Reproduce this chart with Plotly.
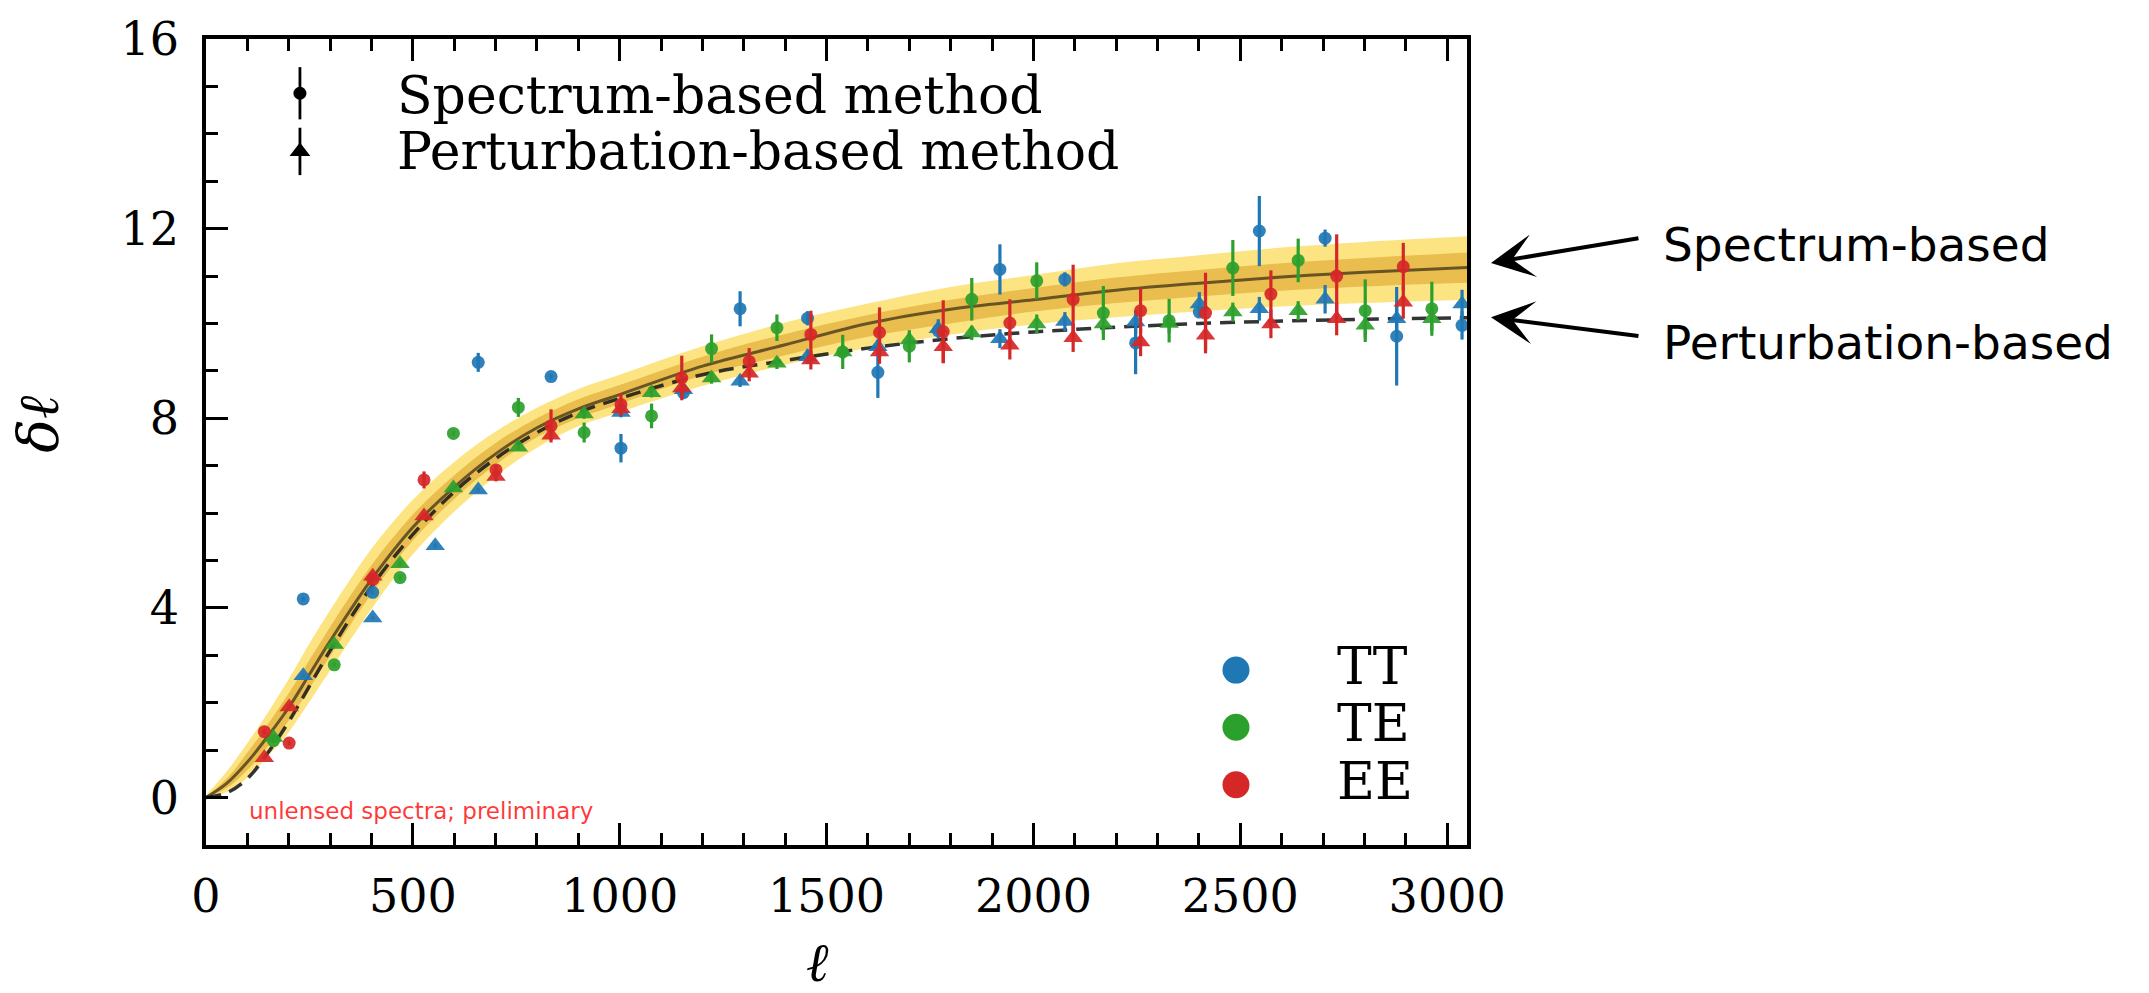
import plotly.graph_objects as go

# ---------------- data ----------------
ell_curve = [0, 50, 100, 150, 200, 250, 300, 400, 500, 600, 700, 800, 900, 1000,
             1200, 1400, 1600, 1800, 2000, 2200, 2400, 2600, 2800, 3050]
spec_mean = [0, 0.3, 0.75, 1.3, 1.9, 2.6, 3.3, 4.6, 5.7, 6.55, 7.25, 7.8, 8.2, 8.5,
             9.1, 9.55, 10.0, 10.3, 10.5, 10.7, 10.85, 10.98, 11.08, 11.18]
band_outer_hi = [0.05, 0.55, 1.15, 1.8, 2.5, 3.25, 3.95, 5.25, 6.28, 7.08, 7.72, 8.22, 8.62, 8.92,
                 9.52, 10.02, 10.42, 10.77, 11.02, 11.27, 11.44, 11.6, 11.72, 11.84]
band_outer_lo = [0, 0.12, 0.42, 0.88, 1.38, 2.02, 2.68, 3.98, 5.13, 6.03, 6.78, 7.38, 7.83, 8.13,
                 8.68, 9.13, 9.48, 9.76, 9.98, 10.13, 10.26, 10.36, 10.43, 10.5]
band_inner_hi = [0.02, 0.4, 0.95, 1.55, 2.2, 2.9, 3.6, 4.9, 5.97, 6.8, 7.48, 8.0, 8.4, 8.7,
                 9.3, 9.78, 10.18, 10.5, 10.75, 10.97, 11.13, 11.27, 11.38, 11.5]
band_inner_lo = [0, 0.2, 0.58, 1.08, 1.62, 2.3, 2.98, 4.3, 5.42, 6.3, 7.02, 7.6, 8.0, 8.3,
                 8.9, 9.33, 9.72, 10.0, 10.25, 10.43, 10.57, 10.69, 10.78, 10.86]
pert_curve = [0, 0.1, 0.4, 0.95, 1.6, 2.35, 3.1, 4.45, 5.55, 6.45, 7.15, 7.7, 8.12, 8.42,
              8.92, 9.22, 9.48, 9.68, 9.82, 9.92, 10.0, 10.05, 10.09, 10.12]

# TT
tt_spec_ell = [235, 403, 658, 834, 1003, 1154, 1291, 1454, 1624, 1770, 1919, 2076, 2247,
               2401, 2546, 2705, 2878, 3036]
tt_spec_val = [4.19, 4.33, 9.18, 8.88, 7.37, 8.54, 10.31, 10.11, 8.97, 9.85, 11.14, 10.93,
               9.59, 10.24, 11.95, 11.8, 9.73, 9.96]
tt_spec_err = [0.05, 0.05, 0.2, 0.05, 0.3, 0.1, 0.37, 0.15, 0.54, 0.1, 0.53, 0.15, 0.66,
               0.1, 0.74, 0.18, 1.04, 0.3]
tt_pert_ell = [235, 403, 554, 658, 1003, 1154, 1291, 1454, 1624, 1770, 1919, 2076, 2247,
               2401, 2546, 2705, 2878, 3036]
tt_pert_val = [2.57, 3.79, 5.31, 6.49, 8.12, 8.6, 8.78, 9.3, 9.51, 9.89, 9.68, 10.04, 10.03,
               10.41, 10.31, 10.51, 10.1, 10.41]
tt_pert_err = [0.03, 0.03, 0.05, 0.05, 0.1, 0.1, 0.12, 0.15, 0.15, 0.2, 0.2, 0.2, 0.25,
               0.25, 0.25, 0.3, 0.3, 0.3]

# TE
te_spec_ell = [163, 310, 469, 598, 755, 914, 1077, 1222, 1380, 1539, 1700, 1851, 2008,
               2169, 2328, 2482, 2640, 2802, 2963]
te_spec_val = [1.2, 2.8, 4.64, 7.68, 8.23, 7.7, 8.05, 9.47, 9.91, 9.4, 9.52, 10.51, 10.9,
               10.22, 10.06, 11.17, 11.33, 10.27, 10.31]
te_spec_err = [0.05, 0.05, 0.05, 0.05, 0.2, 0.21, 0.26, 0.3, 0.28, 0.36, 0.34, 0.45, 0.39,
               0.57, 0.46, 0.59, 0.46, 0.66, 0.57]
te_pert_ell = te_spec_ell
te_pert_val = [1.27, 3.23, 4.93, 6.53, 7.39, 8.09, 8.54, 8.85, 9.16, 9.4, 9.65, 9.8, 9.99,
               9.99, 10.0, 10.24, 10.27, 9.96, 10.1]
te_pert_err = [0.03, 0.03, 0.05, 0.05, 0.05, 0.1, 0.1, 0.12, 0.12, 0.15, 0.15, 0.15, 0.2,
               0.2, 0.2, 0.2, 0.2, 0.25, 0.25]

# EE
ee_spec_ell = [141, 201, 403, 527, 701, 834, 1003, 1150, 1313, 1462, 1628, 1782, 1943,
               2096, 2259, 2416, 2574, 2733, 2894]
ee_spec_val = [1.39, 1.15, 4.6, 6.7, 6.91, 7.84, 8.29, 8.85, 9.2, 9.77, 9.81, 9.83, 10.01,
               10.51, 10.27, 10.22, 10.62, 11.0, 11.2]
ee_spec_err = [0.05, 0.05, 0.05, 0.18, 0.1, 0.35, 0.24, 0.47, 0.28, 0.5, 0.53, 0.66, 0.5,
               0.73, 0.47, 0.85, 0.5, 0.88, 0.5]
ee_pert_ell = ee_spec_ell
ee_pert_val = [0.84, 1.91, 4.67, 5.94, 6.77, 7.64, 8.2, 8.64, 8.95, 9.23, 9.4, 9.51, 9.54,
               9.7, 9.61, 9.75, 9.99, 10.1, 10.45]
ee_pert_err = [0.03, 0.03, 0.05, 0.05, 0.1, 0.1, 0.12, 0.15, 0.17, 0.2, 0.25, 0.35, 0.3,
               0.3, 0.3, 0.3, 0.3, 0.35, 0.35]

spectra_names = ["TT", "TE", "EE"]
spectra_colors = ["#1f77b4", "#2ca02c", "#d62728"]

x_ticks = [0, 500, 1000, 1500, 2000, 2500, 3000]
y_ticks = [0, 4, 8, 12, 16]

# ---------------- figure ----------------
fig = go.Figure()


def band(lo, hi, color):
    fig.add_trace(go.Scatter(x=ell_curve, y=lo, mode="lines", line=dict(width=0),
                             line_shape="spline", hoverinfo="skip", showlegend=False))
    fig.add_trace(go.Scatter(x=ell_curve, y=hi, mode="lines", line=dict(width=0),
                             line_shape="spline", fill="tonexty", fillcolor=color,
                             hoverinfo="skip", showlegend=False))


band(band_outer_lo, band_outer_hi, "rgb(253,228,130)")
band(band_inner_lo, band_inner_hi, "rgb(233,190,78)")

fig.add_trace(go.Scatter(x=ell_curve, y=spec_mean, mode="lines", line_shape="spline",
                         line=dict(color="rgb(105,85,35)", width=3),
                         name="Spectrum-based", showlegend=False))
fig.add_trace(go.Scatter(x=ell_curve, y=pert_curve, mode="lines", line_shape="spline",
                         line=dict(color="rgba(30,30,30,0.9)", width=3.5, dash="15px,9px"),
                         name="Perturbation-based", showlegend=False))

sets = [
    (tt_spec_ell, tt_spec_val, tt_spec_err, tt_pert_ell, tt_pert_val, tt_pert_err),
    (te_spec_ell, te_spec_val, te_spec_err, te_pert_ell, te_pert_val, te_pert_err),
    (ee_spec_ell, ee_spec_val, ee_spec_err, ee_pert_ell, ee_pert_val, ee_pert_err),
]
for name, color, (se, sv, serr, pe, pv, perr) in zip(spectra_names, spectra_colors, sets):
    fig.add_trace(go.Scatter(
        x=se, y=sv, mode="markers", name=name + " spectrum-based",
        marker=dict(symbol="circle", size=13, color=color, opacity=0.92),
        error_y=dict(type="data", array=serr, color=color, thickness=3.2, width=0),
        showlegend=False))
    fig.add_trace(go.Scatter(
        x=pe, y=pv, mode="markers", name=name + " perturbation-based",
        marker=dict(symbol="triangle-up", size=17, color=color, opacity=0.92),
        error_y=dict(type="data", array=perr, color=color, thickness=3.2, width=0),
        showlegend=False))

# ---------------- legend glyphs (paper-like overlay axes) ----------------
fig.add_trace(go.Scatter(x=[0.0745], y=[0.9327], xaxis="x2", yaxis="y2", mode="markers",
                         marker=dict(symbol="circle", size=13, color="black"),
                         error_y=dict(type="data", array=[0.0324], color="black",
                                      thickness=2.8, width=0),
                         hoverinfo="skip", showlegend=False))
fig.add_trace(go.Scatter(x=[0.0745], y=[0.8605], xaxis="x2", yaxis="y2", mode="markers",
                         marker=dict(symbol="triangle-up", size=18, color="black"),
                         error_y=dict(type="data", array=[0.0294], color="black",
                                      thickness=2.8, width=0),
                         hoverinfo="skip", showlegend=False))
fig.add_trace(go.Scatter(x=[0.8168] * 3, y=[0.217, 0.146, 0.0747], xaxis="x2", yaxis="y2",
                         mode="markers",
                         marker=dict(symbol="circle", size=27, color=spectra_colors),
                         hoverinfo="skip", showlegend=False))

serif = "DejaVu Serif"
annotations = [
    dict(x=0.1499, y=0.930, xref="paper", yref="paper", text="Spectrum-based method",
         showarrow=False, xanchor="left", yanchor="middle",
         font=dict(family=serif, size=52, color="black")),
    dict(x=0.1499, y=0.861, xref="paper", yref="paper", text="Perturbation-based method",
         showarrow=False, xanchor="left", yanchor="middle",
         font=dict(family=serif, size=52, color="black")),
]
for t, yy in zip(spectra_names, [0.222, 0.151, 0.080]):
    annotations.append(dict(x=0.895, y=yy, xref="paper", yref="paper", text=t,
                            showarrow=False, xanchor="left", yanchor="middle",
                            font=dict(family=serif, size=52, color="black")))

annotations += [
    dict(x=0.0325, y=0.0428, xref="paper", yref="paper", text="unlensed spectra; preliminary",
         showarrow=False, xanchor="left", yanchor="middle",
         font=dict(family="DejaVu Sans", size=23, color="rgba(255,20,20,0.85)")),
    # arrows
    dict(x=1.019, y=0.7222, xref="paper", yref="paper", text="", showarrow=True,
         ax=149, ay=-25, axref="pixel", ayref="pixel", arrowhead=3, arrowsize=1.8,
         arrowwidth=4, arrowcolor="black", standoff=0, startstandoff=0),
    dict(x=1.019, y=0.6548, xref="paper", yref="paper", text="", showarrow=True,
         ax=149, ay=19, axref="pixel", ayref="pixel", arrowhead=3, arrowsize=1.8,
         arrowwidth=4, arrowcolor="black", standoff=0, startstandoff=0),
    dict(x=1.1538, y=0.7454, xref="paper", yref="paper", text="Spectrum-based",
         showarrow=False, xanchor="left", yanchor="middle",
         font=dict(family="DejaVu Sans", size=47, color="black")),
    dict(x=1.1538, y=0.623, xref="paper", yref="paper", text="Perturbation-based",
         showarrow=False, xanchor="left", yanchor="middle",
         font=dict(family="DejaVu Sans", size=47, color="black")),
    # axis titles
    dict(x=0.485, y=-0.146, xref="paper", yref="paper", text="<i>ℓ</i>", showarrow=False,
         xanchor="center", yanchor="middle", font=dict(family=serif, size=54, color="black")),
    dict(x=-0.133, y=0.523, xref="paper", yref="paper", text="<i>δℓ</i>", showarrow=False,
         textangle=-90, xanchor="center", yanchor="middle",
         font=dict(family=serif, size=56, color="black")),
]

axis_common = dict(showgrid=False, zeroline=False, showline=True, linecolor="black",
                   linewidth=3.5, ticks="inside", tickwidth=3, tickcolor="black",
                   tickfont=dict(family=serif, size=46, color="black"))

fig.update_layout(
    width=2149, height=993,
    margin=dict(l=206, r=682, t=28, b=148),
    paper_bgcolor="white", plot_bgcolor="white",
    showlegend=False,
    xaxis=dict(range=[0, 3048], tickvals=x_ticks, ticktext=[str(v) for v in x_ticks],
               ticklen=22, mirror="ticks", ticklabelstandoff=8,
               minor=dict(dtick=100, tick0=0, ticklen=12, tickwidth=2.5, ticks="inside",
                          tickcolor="black"),
               **axis_common),
    yaxis=dict(range=[-1, 16], tickvals=y_ticks, ticktext=[str(v) for v in y_ticks],
               ticklen=22, mirror=True, ticklabelstandoff=14,
               minor=dict(dtick=1, tick0=0, ticklen=12, tickwidth=2.5, ticks="inside",
                          tickcolor="black"),
               **axis_common),
    xaxis2=dict(range=[0, 1], overlaying="x", visible=False, fixedrange=True),
    yaxis2=dict(range=[0, 1], overlaying="y", visible=False, fixedrange=True),
    annotations=annotations,
)

fig.write_html("out.html")
